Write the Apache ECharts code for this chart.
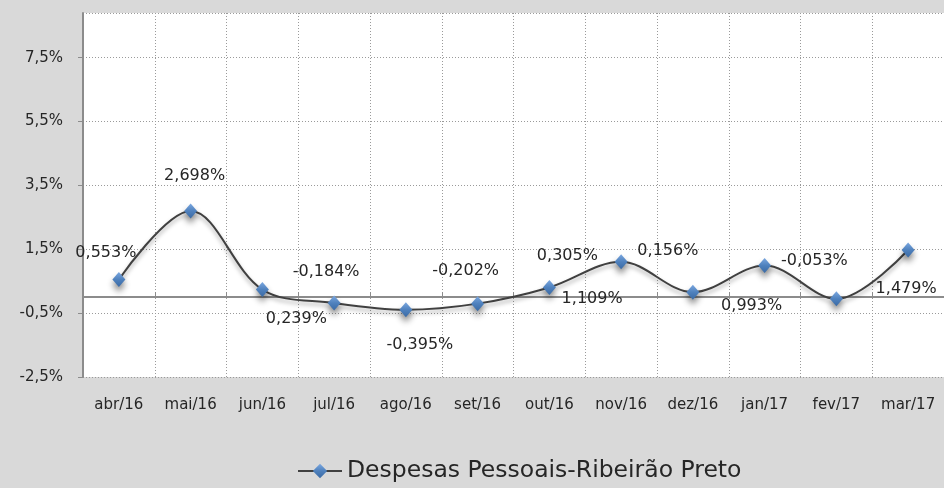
<!DOCTYPE html>
<html>
<head>
<meta charset="utf-8">
<script src="https://cdn.jsdelivr.net/npm/echarts@6/dist/echarts.min.js"></script>
<style>
  html, body { margin: 0; padding: 0; background: #d9d9d9; }
  #chart { width: 944px; height: 488px; }
</style>
</head>
<body>
<div id="chart"></div>
<script>
const months = ['abr/16', 'mai/16', 'jun/16', 'jul/16', 'ago/16', 'set/16', 'out/16', 'nov/16', 'dez/16', 'jan/17', 'fev/17', 'mar/17']
const despesas = [0.553, 2.698, 0.239, -0.184, -0.395, -0.202, 0.305, 1.109, 0.156, 0.993, -0.053, 1.479]
const seriesName = 'Despesas Pessoais-Ribeirão Preto'

// where Excel dropped each data label, relative to its marker
const labelShift = [[-13, -27], [4, -35], [34, 29], [-8, -31], [14, 35], [-12, -33],
  [18, -32], [-29, 37], [-25, -41], [-13, 40], [-22, -38], [-2, 39]]

const fmt = (v, d) => v.toFixed(d).replace('.', ',') + '%'
const font = 'DejaVu Sans'
const gridLine = { color: '#9a9a9a', type: [1, 2], width: 1 }

const chart = echarts.init(document.getElementById('chart'))

chart.setOption({
  backgroundColor: '#d9d9d9',
  textStyle: { fontFamily: font },
  grid: {
    left: 83, top: 13, width: 864, height: 364,
    show: true, backgroundColor: '#ffffff', borderWidth: 0,
  },
  legend: {
    left: 292, top: 454,
    itemWidth: 44, itemHeight: 18,
    textStyle: { fontFamily: font, fontSize: 23.5, color: '#262626' },
    data: [seriesName],
  },
  xAxis: [
    {
      type: 'category',
      data: months,
      position: 'bottom',
      axisLine: { show: false, onZero: false },
      axisTick: { show: false },
      axisLabel: { color: '#262626', fontSize: 15, margin: 21, fontFamily: font },
      splitLine: { show: true, lineStyle: gridLine },
    },
    {
      type: 'category',
      data: months,
      position: 'bottom',
      axisLine: { show: true, onZero: true, lineStyle: { color: '#8c8c8c', width: 2 } },
      axisTick: { show: true, inside: true, length: 5, lineStyle: { color: '#8c8c8c' } },
      axisLabel: { show: false },
      splitLine: { show: false },
    },
  ],
  yAxis: {
    type: 'value',
    min: -2.5,
    max: 8.9,
    interval: 2,
    axisLine: { show: true, lineStyle: { color: '#8c8c8c', width: 2 } },
    axisTick: { show: true, length: 5, lineStyle: { color: '#8c8c8c' } },
    axisLabel: {
      color: '#262626', fontSize: 15, margin: 20, fontFamily: font,
      showMaxLabel: false,
      formatter: v => fmt(v, 1),
    },
    splitLine: { show: true, lineStyle: gridLine },
  },
  series: [
    {
      name: seriesName,
      type: 'line',
      xAxisIndex: 0,
      smooth: 0.35,
      symbol: 'diamond',
      symbolSize: [13, 15],
      data: despesas.map((v, i) => ({
        value: v,
        label: { offset: labelShift[i] },
      })),
      lineStyle: {
        color: '#404040', width: 2,
        shadowColor: 'rgba(0,0,0,0.35)', shadowBlur: 4, shadowOffsetY: 3,
      },
      itemStyle: {
        color: new echarts.graphic.LinearGradient(0, 0, 0, 1, [
          { offset: 0, color: '#7aa7e0' },
          { offset: 0.5, color: '#4f81bd' },
          { offset: 1, color: '#3a6aa5' },
        ]),
        borderWidth: 0,
        shadowColor: 'rgba(0,0,0,0.45)', shadowBlur: 6, shadowOffsetY: 5,
      },
      label: {
        show: true,
        position: 'inside',
        color: '#262626',
        fontFamily: font,
        fontSize: 16,
        formatter: p => fmt(p.value, 3),
      },
      emphasis: { disabled: true },
    },
  ],
})
</script>
</body>
</html>
